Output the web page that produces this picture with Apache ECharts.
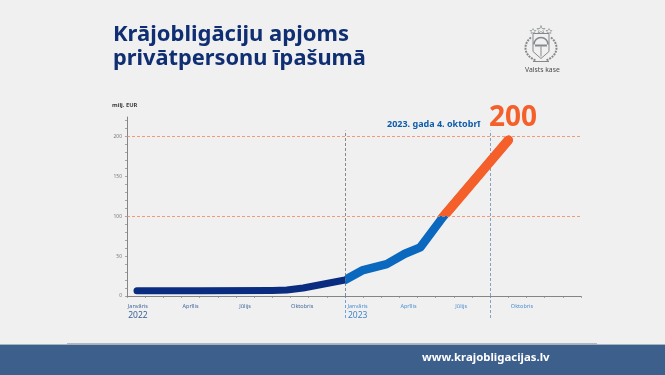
<!DOCTYPE html>
<html><head><meta charset="utf-8">
<style>html,body{margin:0;padding:0;background:#f0f0f0}#c{width:665px;height:375px}</style>
<script src="https://cdn.jsdelivr.net/npm/echarts@6/dist/echarts.min.js"></script>
</head><body><div id="c"></div>
<script>
const monthX = [0.55, 4, 8, 8.8, 9.7, 12, 12.95, 14.3, 15.3, 16.15, 17.4, 21];
const volume = [6.5, 6.5, 7, 7.5, 10, 20, 32, 40, 53, 61, 99, 195.5];
const tickLabelX = [0.6, 3.5, 6.5, 9.65, 12.7, 15.5, 18.4, 21.75];
const tickLabels = ['Janvāris','Aprīlis','Jūlijs','Oktobris','Janvāris','Aprīlis','Jūlijs','Oktobris'];
const yearLabels = ['2022','','','','2023','','',''];
const yTicks = [0,10,20,30,40,50,60,70,80,90,100,110,120,130,140,150,160,170,180,190,200,210,220];
const yLabels = [0,50,100,150,200];
const levels = [100,200];
const newYear = 12, marker = 20;

const pts = monthX.map((x,i)=>[x,volume[i]]);
const font = '"Noto Sans"';
const crest = '#85898c';
const clear = 'rgba(255,255,255,0)';
const dash = c => ({color:c,type:[3,2],width:.8});
const chart = echarts.init(document.getElementById('c'));
chart.setOption({
  animation:false, backgroundColor:'#f0f0f0',
  grid:[{left:127,top:117,width:454,height:179},{left:127,top:296,width:454,height:22}],
  xAxis:[{type:'value',min:0,max:25,splitLine:{show:false},
    axisLine:{onZero:false,lineStyle:{color:'#858585',width:1}},
    axisTick:{show:true,length:2,lineStyle:{color:'#858585',width:.7},customValues:Array.from({length:26},(_,i)=>i)},
    axisLabel:{customValues:tickLabelX,margin:6,hideOverlap:false,showMinLabel:true,showMaxLabel:true,
      formatter:v=>{const i=tickLabelX.indexOf(v);const o=i<4?'a':'b';
        return `{${o}|${tickLabels[i]}}`+(yearLabels[i]?`\n{${o}y|${yearLabels[i]}}`:'');},
      rich:{a:{fontFamily:font,fontSize:5.5,color:'#44699c',lineHeight:9},
            b:{fontFamily:font,fontSize:5.5,color:'#4f8fd0',lineHeight:9},
            ay:{fontFamily:font,fontSize:8.5,color:'#3d6198',lineHeight:10},
            by:{fontFamily:font,fontSize:8.5,color:'#3f86c8',lineHeight:10}}}},
    {gridIndex:1,type:'value',min:0,max:25,show:false}],
  yAxis:[{type:'value',min:0,max:224.5,splitLine:{show:false},
    axisLine:{show:true,onZero:false,lineStyle:{color:'#858585',width:1}},
    axisTick:{show:true,length:2,lineStyle:{color:'#858585',width:.7},customValues:yTicks},
    axisLabel:{customValues:yLabels,margin:5,fontFamily:font,fontSize:5,color:'#7c7c7c'}},
    {gridIndex:1,type:'value',min:0,max:1,show:false}],
  visualMap:[
    {show:false,type:'piecewise',dimension:0,seriesIndex:0,pieces:[{min:0,max:newYear,color:'#0a2c80'},{min:newYear,max:25,color:clear}]},
    {show:false,type:'piecewise',dimension:0,seriesIndex:1,pieces:[{min:0,max:newYear,color:clear},{min:newYear,max:25,color:'#0a68bf'}]},
    {show:false,type:'piecewise',dimension:1,seriesIndex:2,pieces:[{min:0,max:levels[0],color:clear},{min:levels[0],max:225,color:'#f55f2a'}]}
  ],
  series:[
    {type:'line',data:pts,showSymbol:false,clip:false,z:3,lineStyle:{width:7,cap:'round',join:'round'},
      markLine:{silent:true,symbol:'none',label:{show:false},animation:false,
        data:[
          ...levels.map(v=>({yAxis:v,lineStyle:dash('#f4835a')})),
          [{coord:[newYear,0],lineStyle:dash('#6f6f6f')},{coord:[newYear,207.5]}],
          [{coord:[marker,0],lineStyle:dash('#6a8fb3')},{coord:[marker,207.5]}]
        ]}},
    {type:'line',data:pts,showSymbol:false,clip:false,z:4,lineStyle:{width:8.5,cap:'round',join:'round'}},
    {type:'line',data:pts,showSymbol:false,clip:false,z:5,lineStyle:{width:9.5,cap:'round',join:'round'}},
    {type:'line',xAxisIndex:1,yAxisIndex:1,data:[],showSymbol:false,
      markLine:{silent:true,symbol:'none',label:{show:false},animation:false,
        data:[{xAxis:newYear,lineStyle:dash('#4f8fd0')},{xAxis:marker,lineStyle:dash('#6a8fb3')}]}}
  ],
  graphic:[
    {type:'text',left:113,top:24,style:{text:'Krājobligāciju apjoms',font:`700 22px ${font}`,fill:'#0f2f72'}},
    {type:'text',left:113,top:48,style:{text:'privātpersonu īpašumā',font:`700 21.8px ${font}`,fill:'#0f2f72'}},
    {type:'text',left:112,top:102,style:{text:'milj. EUR',font:`700 5.8px ${font}`,fill:'#3c3c3c'}},
    {type:'text',left:387,top:120,style:{text:'2023. gada 4. oktobrī',font:`700 9px ${font}`,fill:'#0f5cab'}},
    {type:'text',left:489,top:104,style:{text:'200',font:`700 28px ${font}`,fill:'#f55f2a'}},
    {type:'text',left:525,top:67,style:{text:'Valsts kase',font:`6.8px ${font}`,fill:'#4a4a4a'}},
    {type:'group',left:523,top:23,children:[
      {type:'polygon',shape:{points:[[12,8],[28,8],[28,26],[20,33],[12,26]]},style:{fill:'none',stroke:crest,lineWidth:1}},
      {type:'arc',shape:{cx:20,cy:19,r:7,startAngle:Math.PI,endAngle:0},style:{fill:'none',stroke:crest,lineWidth:1.6}},
      {type:'rect',shape:{x:14,y:19,width:12,height:2},style:{fill:crest}},
      {type:'line',shape:{x1:20,y1:21,x2:20,y2:31},style:{stroke:crest,lineWidth:1}},
      {type:'polygon',shape:{points:[[20,0],[21,3],[24,3],[22,5],[23,8],[20,6],[17,8],[18,5],[16,3],[19,3]]},style:{fill:'none',stroke:crest,lineWidth:.7}},
      {type:'polygon',shape:{points:[[12,3],[13,5],[15,5],[13.5,6.5],[14,8],[12,7],[10,8],[10.5,6.5],[9,5],[11,5]]},style:{fill:'none',stroke:crest,lineWidth:.6}},
      {type:'polygon',shape:{points:[[28,3],[29,5],[31,5],[29.5,6.5],[30,8],[28,7],[26,8],[26.5,6.5],[25,5],[27,5]]},style:{fill:'none',stroke:crest,lineWidth:.6}},
      {type:'bezierCurve',shape:{x1:10,y1:12,cpx1:2,cpy1:18,cpx2:2,cpy2:30,x2:15,y2:35},style:{fill:'none',stroke:crest,lineWidth:2,lineDash:[2,1]}},
      {type:'bezierCurve',shape:{x1:30,y1:12,cpx1:38,cpy1:18,cpx2:38,cpy2:30,x2:25,y2:35},style:{fill:'none',stroke:crest,lineWidth:2,lineDash:[2,1]}},
      {type:'line',shape:{x1:12,y1:36,x2:28,y2:36},style:{stroke:crest,lineWidth:1}}
    ]},
    {type:'rect',shape:{x:0,y:344.5,width:665,height:31},style:{fill:'#3d5f8c'}},
    {type:'rect',shape:{x:0,y:344,width:665,height:.8},style:{fill:'#aeb7c2'}},
    {type:'rect',shape:{x:67,y:343.3,width:530,height:1},style:{fill:'#9aa6b5'}},
    {type:'text',left:422,top:352,style:{text:'www.krajobligacijas.lv',font:`700 11.4px ${font}`,fill:'#ffffff'}}
  ]
});
</script></body></html>
